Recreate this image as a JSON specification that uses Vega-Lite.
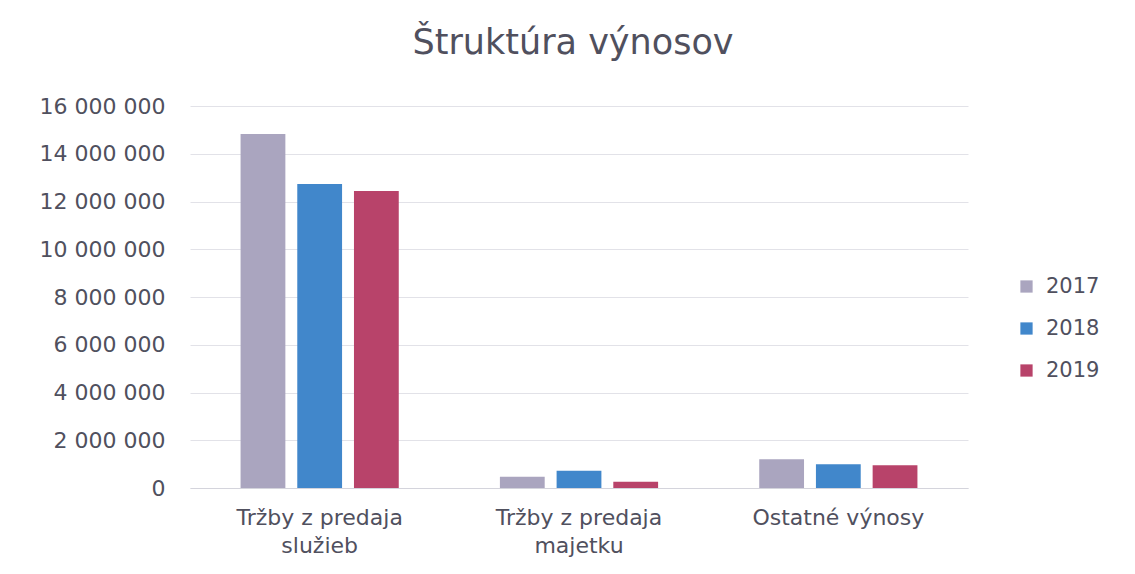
{
  "$schema": "https://vega.github.io/schema/vega-lite/v6.json",
  "autosize": {"type": "none"},
  "padding": {"left": 190, "top": 106, "right": 167, "bottom": 86},
  "width": 778,
  "height": 382,
  "background": "white",
  "title": {
    "text": "Štruktúra výnosov",
    "font": "DejaVu Sans",
    "fontSize": 35,
    "fontWeight": "normal",
    "color": "#50505e",
    "anchor": "middle",
    "baseline": "alphabetic",
    "dx": -6,
    "offset": 6
  },
  "data": {
    "values": [
      {"kategoria": "Tržby z predaja služieb", "rok": "2017", "hodnota": 14830000},
      {"kategoria": "Tržby z predaja služieb", "rok": "2018", "hodnota": 12730000},
      {"kategoria": "Tržby z predaja služieb", "rok": "2019", "hodnota": 12440000},
      {"kategoria": "Tržby z predaja majetku", "rok": "2017", "hodnota": 470000},
      {"kategoria": "Tržby z predaja majetku", "rok": "2018", "hodnota": 720000},
      {"kategoria": "Tržby z predaja majetku", "rok": "2019", "hodnota": 260000},
      {"kategoria": "Ostatné výnosy", "rok": "2017", "hodnota": 1200000},
      {"kategoria": "Ostatné výnosy", "rok": "2018", "hodnota": 1000000},
      {"kategoria": "Ostatné výnosy", "rok": "2019", "hodnota": 950000}
    ]
  },
  "mark": {"type": "bar"},
  "encoding": {
    "x": {
      "field": "kategoria",
      "type": "nominal",
      "sort": null,
      "scale": {"paddingInner": 0.39, "paddingOuter": 0.195},
      "axis": {
        "title": null,
        "labelAngle": 0,
        "labelFont": "DejaVu Sans",
        "labelFontSize": 22,
        "labelColor": "#50505e",
        "labelPadding": 19,
        "labelLineHeight": 28,
        "labelExpr": "datum.value == 'Ostatné výnosy' ? datum.value : [slice(datum.value, 0, 15), slice(datum.value, 16)]",
        "ticks": false,
        "domainColor": "#d4d4dc",
        "grid": false
      }
    },
    "xOffset": {
      "field": "rok",
      "type": "nominal",
      "scale": {"paddingInner": 0.21, "paddingOuter": 0}
    },
    "y": {
      "field": "hodnota",
      "type": "quantitative",
      "scale": {"domain": [0, 16000000]},
      "axis": {
        "title": null,
        "values": [0, 2000000, 4000000, 6000000, 8000000, 10000000, 12000000, 14000000, 16000000],
        "labelExpr": "replace(format(datum.value, ','), regexp(',', 'g'), ' ')",
        "labelFont": "DejaVu Sans",
        "labelFontSize": 22,
        "labelColor": "#50505e",
        "labelPadding": 25,
        "ticks": false,
        "domain": false,
        "gridColor": "#e2e2e8",
        "gridWidth": 1
      }
    },
    "color": {
      "field": "rok",
      "type": "nominal",
      "scale": {"domain": ["2017", "2018", "2019"], "range": ["#aaa5bf", "#4187cb", "#b8436a"]},
      "legend": {
        "title": null,
        "orient": "none",
        "legendX": 826,
        "legendY": 170,
        "symbolType": "square",
        "symbolSize": 150,
        "symbolStrokeWidth": 0,
        "labelFont": "DejaVu Sans",
        "labelFontSize": 21,
        "labelColor": "#50505e",
        "rowPadding": 20,
        "labelOffset": 9
      }
    }
  },
  "config": {"view": {"stroke": null}}
}
